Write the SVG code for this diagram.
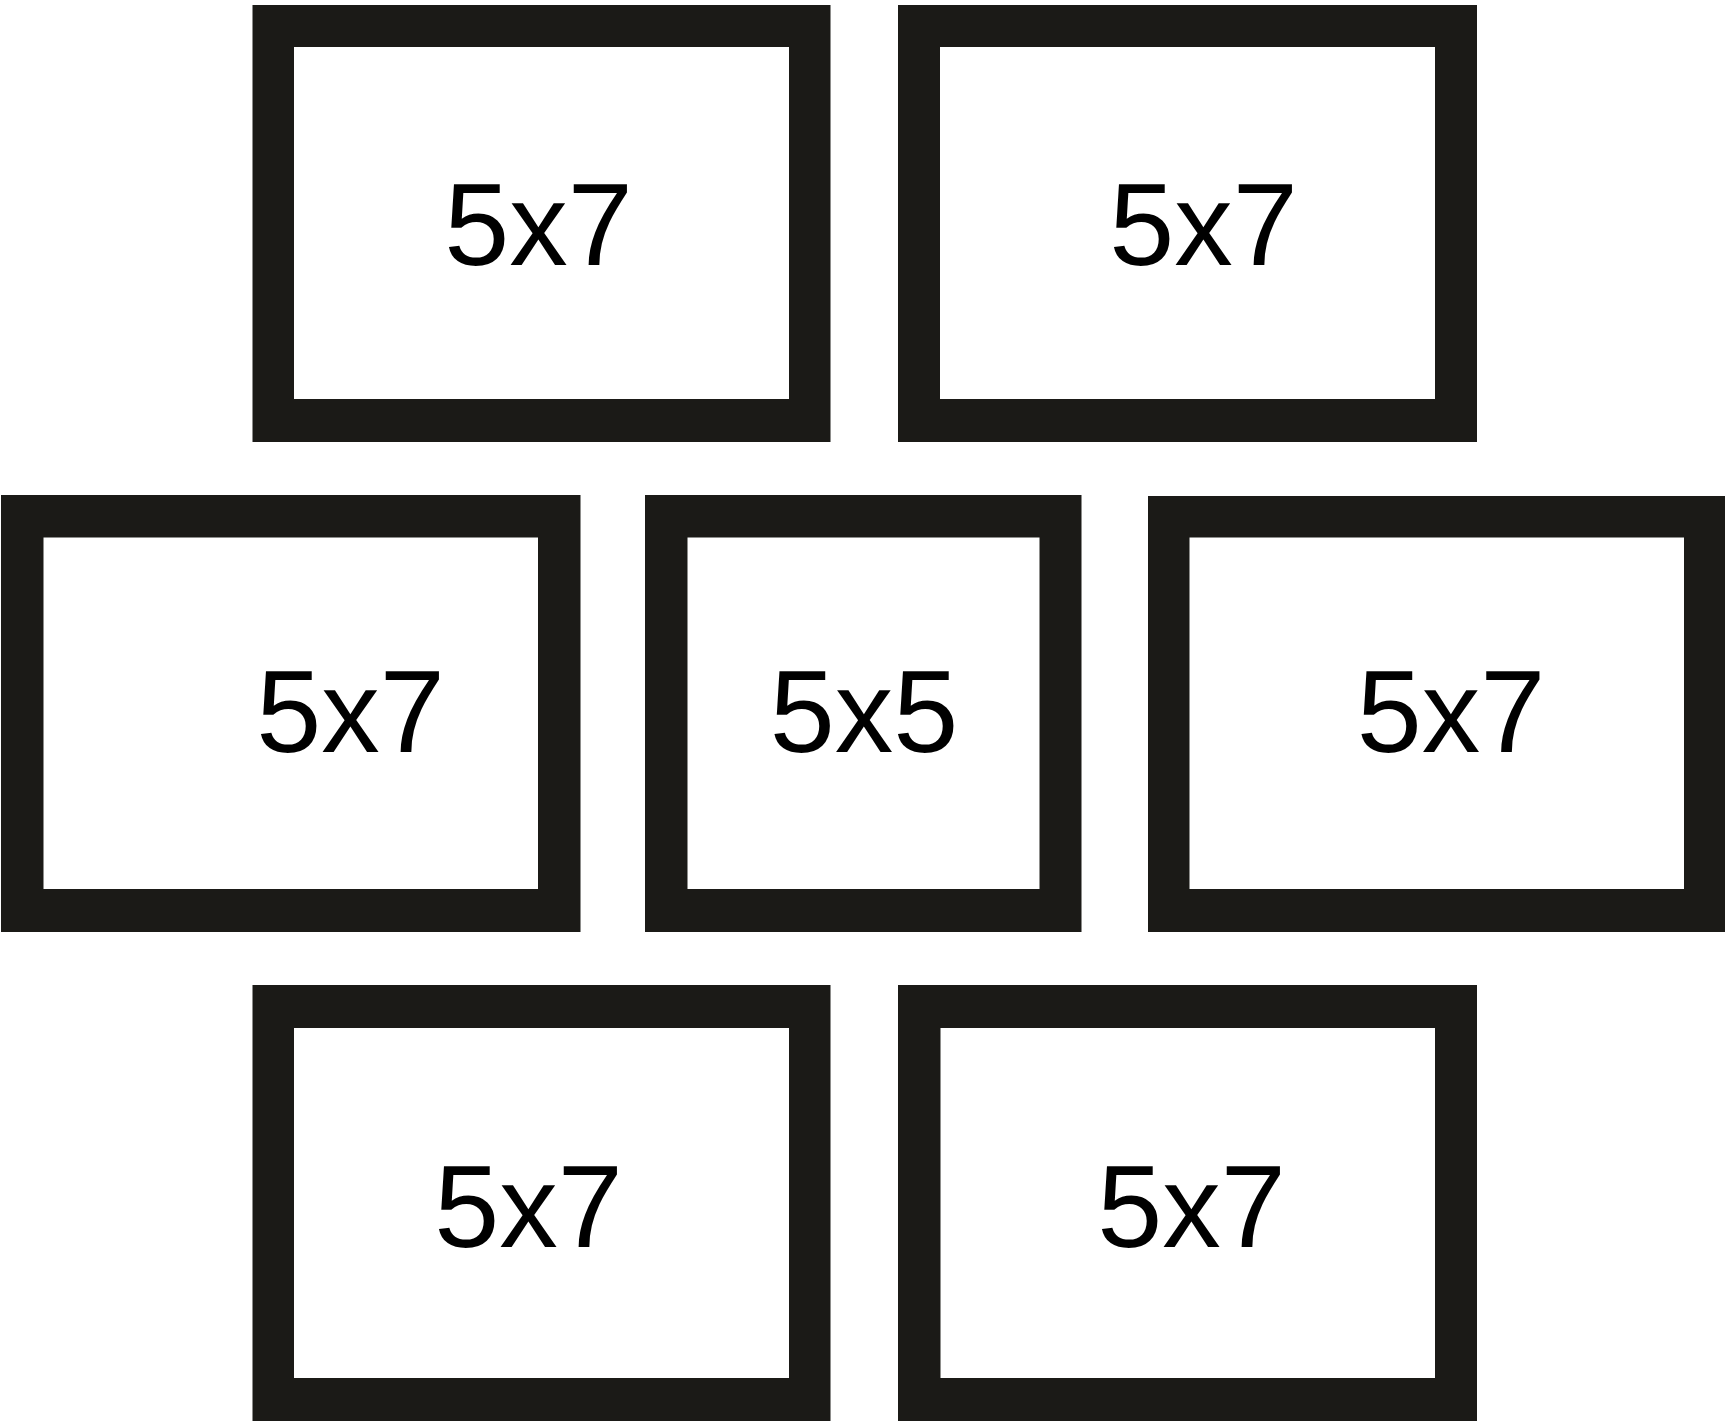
<svg xmlns="http://www.w3.org/2000/svg" width="1727" height="1425" viewBox="0 0 1727 1425">
<style>
.frame{fill:#1b1a17}
.mat{fill:#ffffff}
.lbl{font-family:"Liberation Sans",Arial,sans-serif;font-size:117px;fill:#000000;text-anchor:middle}
</style>
<rect x="0" y="0" width="1727" height="1425" fill="#ffffff"/>
<g id="frame1">
<rect class="frame" x="252.5" y="5" width="578" height="437"/>
<rect class="mat" x="294" y="47" width="495" height="352"/>
<text class="lbl" x="538.5" y="265">5x7</text>
</g>
<g id="frame2">
<rect class="frame" x="898" y="5" width="579" height="437"/>
<rect class="mat" x="940" y="47" width="495" height="352"/>
<text class="lbl" x="1203.5" y="265">5x7</text>
</g>
<g id="frame3">
<rect class="frame" x="1" y="495" width="579.5" height="437"/>
<rect class="mat" x="43.5" y="537.5" width="494.5" height="351.5"/>
<text class="lbl" x="350.5" y="752">5x7</text>
</g>
<g id="frame4">
<rect class="frame" x="645" y="495" width="436.5" height="437"/>
<rect class="mat" x="687.5" y="537.5" width="352" height="351.5"/>
<text class="lbl" x="864" y="752">5x5</text>
</g>
<g id="frame5">
<rect class="frame" x="1148" y="496" width="577" height="436"/>
<rect class="mat" x="1189.5" y="537.5" width="494.5" height="351.5"/>
<text class="lbl" x="1451" y="752">5x7</text>
</g>
<g id="frame6">
<rect class="frame" x="252.5" y="985" width="578" height="436"/>
<rect class="mat" x="294" y="1028" width="495" height="350"/>
<text class="lbl" x="528.5" y="1247">5x7</text>
</g>
<g id="frame7">
<rect class="frame" x="898" y="985" width="579" height="436"/>
<rect class="mat" x="940.5" y="1028" width="494.5" height="350"/>
<text class="lbl" x="1191.5" y="1247">5x7</text>
</g>
<g id="connectors"></g>
</svg>
